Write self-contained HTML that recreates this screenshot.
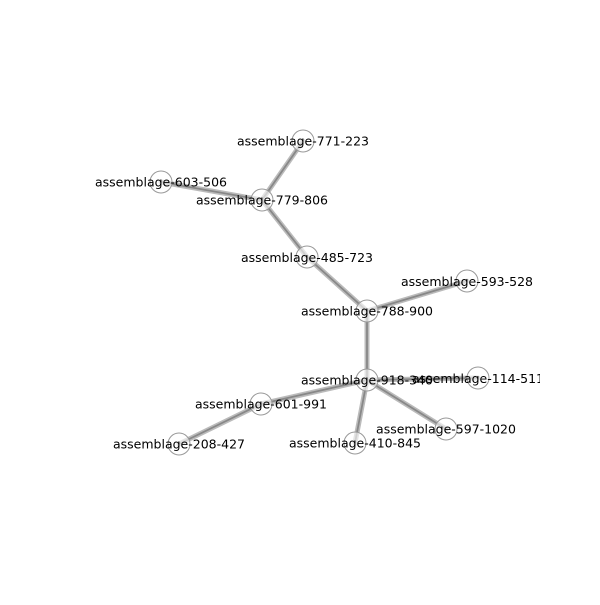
<!DOCTYPE html>
<html><head><style>body{margin:0;background:#fff}</style></head><body>
<svg width="600" height="600" xmlns="http://www.w3.org/2000/svg" font-family="DejaVu Sans, Liberation Sans, sans-serif" font-size="12.5">
<defs><clipPath id="c"><rect x="0" y="0" width="540" height="600"/></clipPath></defs>
<g stroke-linecap="round">
<g stroke="#bbb" stroke-width="5">
<line x1="303" y1="141" x2="262" y2="200"/><line x1="161" y1="182" x2="262" y2="200"/><line x1="262" y1="200" x2="307" y2="257"/><line x1="307" y1="257" x2="367" y2="311"/><line x1="367" y1="311" x2="467" y2="281"/><line x1="367" y1="311" x2="367" y2="380"/><line x1="367" y1="380" x2="478" y2="378"/><line x1="367" y1="380" x2="261" y2="404"/><line x1="261" y1="404" x2="179" y2="444"/><line x1="367" y1="380" x2="355" y2="443"/><line x1="367" y1="380" x2="446" y2="429"/>
</g>
<g stroke="#888" stroke-width="1.8">
<line x1="303" y1="141" x2="262" y2="200"/><line x1="161" y1="182" x2="262" y2="200"/><line x1="262" y1="200" x2="307" y2="257"/><line x1="307" y1="257" x2="367" y2="311"/><line x1="367" y1="311" x2="467" y2="281"/><line x1="367" y1="311" x2="367" y2="380"/><line x1="367" y1="380" x2="478" y2="378"/><line x1="367" y1="380" x2="261" y2="404"/><line x1="261" y1="404" x2="179" y2="444"/><line x1="367" y1="380" x2="355" y2="443"/><line x1="367" y1="380" x2="446" y2="429"/>
</g></g>
<g fill="#fff" fill-opacity="0.6" stroke="#999" stroke-width="1">
<circle cx="303" cy="141" r="11"/><circle cx="161" cy="182" r="11"/><circle cx="262" cy="200" r="11"/><circle cx="307" cy="257" r="11"/><circle cx="467" cy="281" r="11"/><circle cx="367" cy="311" r="11"/><circle cx="367" cy="380" r="11"/><circle cx="478" cy="378" r="11"/><circle cx="261" cy="404" r="11"/><circle cx="446" cy="429" r="11"/><circle cx="355" cy="443" r="11"/><circle cx="179" cy="444" r="11"/>
</g>
<g text-anchor="middle" fill="#000" clip-path="url(#c)">
<text x="303" y="145.5">assemblage-771-223</text>
<text x="161" y="186.5">assemblage-603-506</text>
<text x="262" y="204.5">assemblage-779-806</text>
<text x="307" y="262">assemblage-485-723</text>
<text x="467" y="286">assemblage-593-528</text>
<text x="367" y="315.5">assemblage-788-900</text>
<text x="367" y="384.5">assemblage-918-340</text>
<text x="478" y="383">assemblage-114-511</text>
<text x="261" y="408.5">assemblage-601-991</text>
<text x="446" y="433.5">assemblage-597-1020</text>
<text x="355" y="447.5">assemblage-410-845</text>
<text x="179" y="448.5">assemblage-208-427</text>
</g>
</svg>
</body></html>
